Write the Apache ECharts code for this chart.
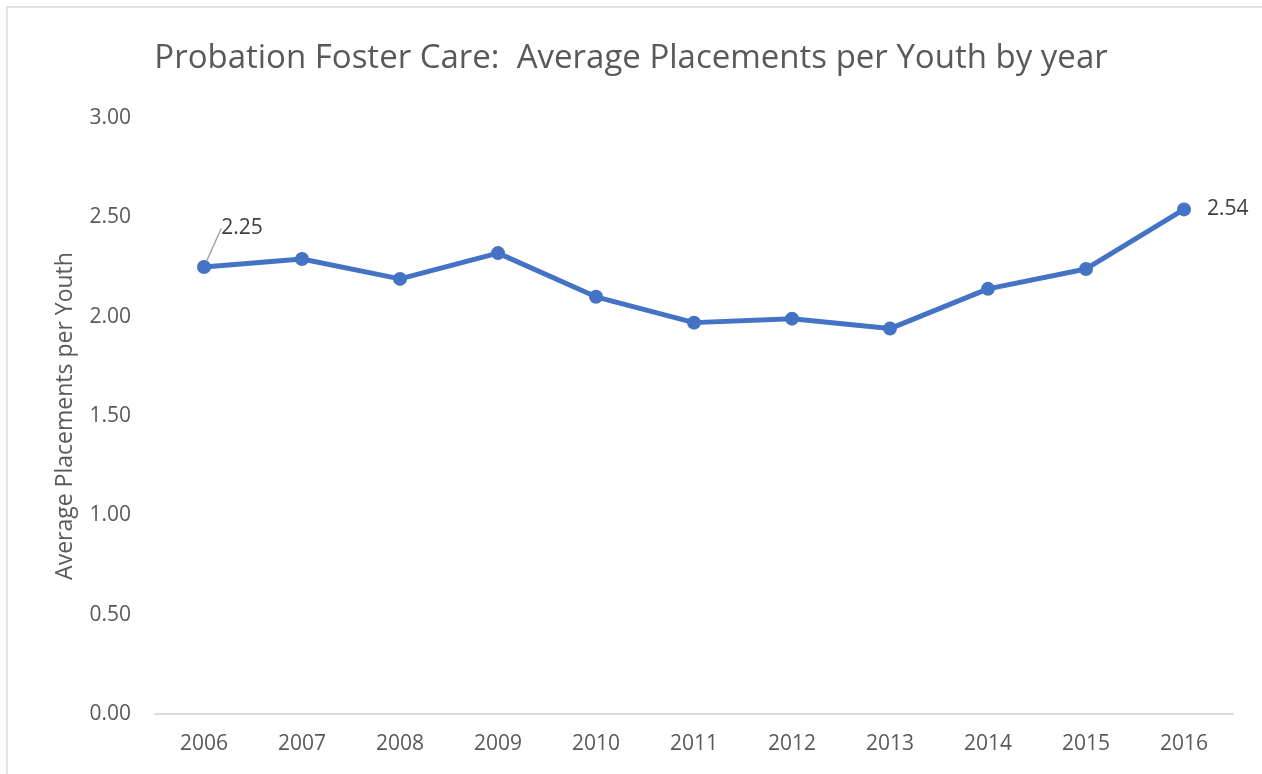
<!DOCTYPE html>
<html>
<head>
<meta charset="utf-8">
<script src="https://cdn.jsdelivr.net/npm/echarts@6/dist/echarts.min.js"></script>
<style>
    html, body { margin: 0; padding: 0; background: #fff; }
    #chart { width: 1262px; height: 774px; }
</style>
</head>
<body>
<div id="chart"></div>
<script>
const years = ['2006', '2007', '2008', '2009', '2010', '2011', '2012', '2013', '2014', '2015', '2016'];
const avgPlacements = [2.25, 2.29, 2.19, 2.32, 2.10, 1.97, 1.99, 1.94, 2.14, 2.24, 2.54];
const yTicks = { min: 0, max: 3, interval: 0.5 };

const textColor = '#595959';
const fontFamily = '"Open Sans", "Noto Sans", sans-serif';

// only the first and last point carry a label
let seriesData = avgPlacements.map(function (v, i) {
    if (i === 0) {
        return { value: v, label: { show: true, position: 'top' }, labelLine: { show: true } };
    }
    if (i === avgPlacements.length - 1) {
        return { value: v, label: { show: true, position: 'right', distance: 16 } };
    }
    return v;
});

let chart = echarts.init(document.getElementById('chart'));
chart.setOption({
    backgroundColor: '#fff',
    textStyle: { fontFamily: fontFamily },
    graphic: [{
        type: 'rect',
        shape: { x: 7, y: 7, width: 1300, height: 800 },
        style: { fill: 'none', stroke: '#d9d9d9', lineWidth: 1.5 },
        silent: true
    }],
    title: {
        text: 'Probation Foster Care:  Average Placements per Youth by year',
        left: 'center',
        top: 37,
        textStyle: { color: textColor, fontSize: 33, fontWeight: 'normal', fontFamily: fontFamily }
    },
    grid: { left: 155, right: 29, top: 118, bottom: 60 },
    xAxis: {
        type: 'category',
        data: years,
        boundaryGap: true,
        axisLine: { lineStyle: { color: '#d9d9d9', width: 2 } },
        axisTick: { show: false },
        axisLabel: { color: textColor, fontSize: 21, margin: 20 }
    },
    yAxis: {
        type: 'value',
        min: yTicks.min,
        max: yTicks.max,
        interval: yTicks.interval,
        name: 'Average Placements per Youth',
        nameLocation: 'middle',
        nameGap: 78,
        nameTextStyle: { color: textColor, fontSize: 23 },
        axisLine: { show: false },
        axisTick: { show: false },
        splitLine: { show: false },
        axisLabel: {
            color: textColor,
            fontSize: 21,
            margin: 24,
            formatter: function (v) { return v.toFixed(2); }
        }
    },
    series: [{
        type: 'line',
        data: seriesData,
        color: '#4472C4',
        lineStyle: { width: 5, color: '#4472C4' },
        symbol: 'circle',
        symbolSize: 14,
        itemStyle: { color: '#4472C4' },
        label: {
            show: false,
            color: '#404040',
            fontSize: 21,
            formatter: function (p) { return p.value.toFixed(2); }
        },
        labelLine: { lineStyle: { color: '#a6a6a6', width: 1.5 } },
        labelLayout: function (params) {
            if (params.dataIndex === 0) {
                return { dx: 38, dy: -16 };
            }
            return {};
        }
    }]
});
</script>
</body>
</html>
